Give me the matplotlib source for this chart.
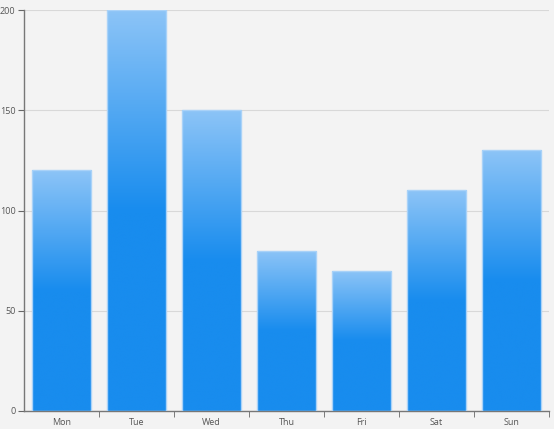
import numpy as np
import matplotlib.pyplot as plt
from matplotlib.colors import LinearSegmentedColormap

days = ['Mon', 'Tue', 'Wed', 'Thu', 'Fri', 'Sat', 'Sun']
values = [120, 200, 150, 80, 70, 110, 130]
y_ticks = [0, 50, 100, 150, 200]

plt.rcParams['font.family'] = ['Open Sans', 'DejaVu Sans']

fig = plt.figure(figsize=(5.54, 4.29), dpi=100, facecolor='#f3f3f3')
ax = fig.add_axes([24 / 554, 18 / 429, 525 / 554, 401 / 429])
ax.set_facecolor('#f3f3f3')

x = np.arange(len(days))
bars = ax.bar(x, values, width=0.79, color='none', edgecolor='#a9d2f8',
              linewidth=1.0, zorder=3)

# vertical gradient: light at top, solid blue from the middle down
cmap = LinearSegmentedColormap.from_list('blu', [(0.0, '#188cee'), (0.5, '#188cee'), (1.0, '#8cc4f7')])
grad = np.linspace(0, 1, 256).reshape(-1, 1)
for b in bars:
    x0, w, h = b.get_x(), b.get_width(), b.get_height()
    im = ax.imshow(grad, extent=[x0, x0 + w, 0, h], origin='lower', cmap=cmap,
                   aspect='auto', zorder=2, interpolation='bicubic')
    im.set_clip_path(b)

ax.set_xlim(-0.5, len(days) - 0.5)
ax.set_ylim(0, 200)
ax.set_yticks(y_ticks)
ax.set_xticks(x)
ax.set_xticklabels(days)
ax.set_xticks(np.arange(0.5, len(days)), minor=True)
ax.tick_params(axis='x', which='major', length=0, pad=5, labelsize=6.5, colors='#555555')
ax.tick_params(axis='x', which='minor', length=4, color='#666666')
ax.tick_params(axis='y', length=4, color='#666666', labelsize=6.5, labelcolor='#555555', pad=2)
ax.grid(axis='y', color='#d8d8d8', linewidth=0.8, zorder=0)
ax.set_axisbelow(True)
for s in ['top', 'right']:
    ax.spines[s].set_visible(False)
for s in ['left', 'bottom']:
    ax.spines[s].set_color('#777777')
    ax.spines[s].set_linewidth(1.0)

fig.savefig('out.png', dpi=100, facecolor='#f3f3f3')
